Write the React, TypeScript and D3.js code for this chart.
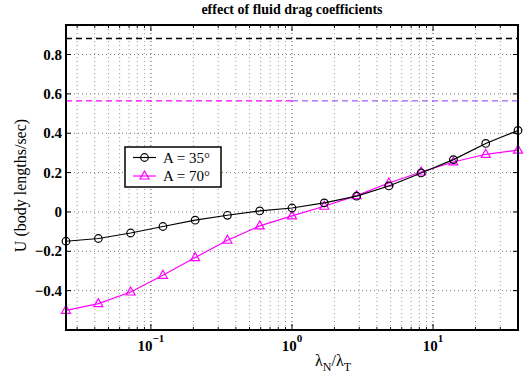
import React, { useRef, useEffect } from 'react';
import * as d3 from 'd3';

const ratios = [0.025, 0.0424, 0.0718, 0.1216, 0.2059, 0.3487, 0.5906, 1.0, 1.695, 2.872, 4.864, 8.238, 13.95, 23.64, 40.04];
const speed35 = [-0.149, -0.135, -0.107, -0.074, -0.042, -0.017, 0.005, 0.020, 0.046, 0.080, 0.132, 0.198, 0.266, 0.348, 0.414];
const speed70 = [-0.500, -0.466, -0.407, -0.322, -0.232, -0.144, -0.071, -0.020, 0.029, 0.083, 0.147, 0.203, 0.254, 0.293, 0.314];
const limit35 = 0.881;
const limit70 = 0.564;
const yTicks = [-0.4, -0.2, 0, 0.2, 0.4, 0.6, 0.8];
const xDecades = [-1, 0, 1];
const legendLabels = ['A = 35°', 'A = 70°'];

function App() {
  const svgRef = useRef<SVGSVGElement>(null);

  useEffect(() => {
    const svg = d3.select(svgRef.current);
    svg.selectAll('*').remove();

    const width = 525;
    const height = 381;
    const margin = { top: 25, right: 7, bottom: 51, left: 66 };
    const font = '"Liberation Serif", "DejaVu Serif", serif';

    const x = d3.scaleLog()
      .domain([0.025, 40.04])
      .range([margin.left, width - margin.right]);

    const y = d3.scaleLinear()
      .domain([-0.6, 0.95])
      .range([height - margin.bottom, margin.top]);

    const x0 = margin.left, x1 = width - margin.right;
    const y0 = height - margin.bottom, y1 = margin.top;

    // minor + major log ticks
    const allX: { v: number, major: boolean }[] = [];
    for (let e = -2; e <= 1; e++) {
      for (let m = 1; m <= 9; m++) {
        const v = m * Math.pow(10, e);
        if (v >= 0.025 && v <= 40.04) allX.push({ v, major: m === 1 });
      }
    }

    const grid = svg.append('g');
    grid.selectAll('line.xg')
      .data(allX)
      .join('line')
      .attr('x1', d => x(d.v)).attr('x2', d => x(d.v))
      .attr('y1', y1).attr('y2', y0)
      .attr('stroke', d => d.major ? '#444' : '#999')
      .attr('stroke-width', 1)
      .attr('stroke-dasharray', '1,3');

    grid.selectAll('line.yg')
      .data(yTicks)
      .join('line')
      .attr('x1', x0).attr('x2', x1)
      .attr('y1', d => y(d)).attr('y2', d => y(d))
      .attr('stroke', '#777')
      .attr('stroke-width', 1)
      .attr('stroke-dasharray', '1,3');

    // tick marks inside
    const ticks = svg.append('g').attr('stroke', '#000').attr('stroke-width', 1);
    allX.forEach(d => {
      const len = d.major ? 6 : 3;
      ticks.append('line').attr('x1', x(d.v)).attr('x2', x(d.v)).attr('y1', y0).attr('y2', y0 - len);
      ticks.append('line').attr('x1', x(d.v)).attr('x2', x(d.v)).attr('y1', y1).attr('y2', y1 + len);
    });
    yTicks.forEach(d => {
      ticks.append('line').attr('x1', x0).attr('x2', x0 + 5).attr('y1', y(d)).attr('y2', y(d));
      ticks.append('line').attr('x1', x1).attr('x2', x1 - 5).attr('y1', y(d)).attr('y2', y(d));
    });

    // limit dashed lines
    svg.append('line')
      .attr('x1', x0).attr('x2', x1)
      .attr('y1', y(limit35)).attr('y2', y(limit35))
      .attr('stroke', '#000').attr('stroke-width', 1.5)
      .attr('stroke-dasharray', '6,4');
    svg.append('line')
      .attr('x1', x0).attr('x2', x(1))
      .attr('y1', y(limit70)).attr('y2', y(limit70))
      .attr('stroke', '#ff00ff').attr('stroke-width', 1.2)
      .attr('stroke-dasharray', '6,4');
    svg.append('line')
      .attr('x1', x(1)).attr('x2', x1)
      .attr('y1', y(limit70)).attr('y2', y(limit70))
      .attr('stroke', '#a05cff').attr('stroke-width', 1.2)
      .attr('stroke-dasharray', '6,4');

    const line = d3.line<number>()
      .x((d, i) => x(ratios[i]))
      .y(d => y(d));

    const triPath = 'M0,-5L4.5,3L-4.5,3Z';

    svg.append('path')
      .datum(speed70)
      .attr('d', line)
      .attr('fill', 'none')
      .attr('stroke', '#ff00ff')
      .attr('stroke-width', 1.2);
    svg.append('g')
      .selectAll('path')
      .data(speed70)
      .join('path')
      .attr('d', triPath)
      .attr('transform', (d, i) => `translate(${x(ratios[i])},${y(d)})`)
      .attr('fill', 'none')
      .attr('stroke', '#ff00ff')
      .attr('stroke-width', 1.2);

    svg.append('path')
      .datum(speed35)
      .attr('d', line)
      .attr('fill', 'none')
      .attr('stroke', '#000')
      .attr('stroke-width', 1.2);
    svg.append('g')
      .selectAll('circle')
      .data(speed35)
      .join('circle')
      .attr('cx', (d, i) => x(ratios[i]))
      .attr('cy', d => y(d))
      .attr('r', 3.8)
      .attr('fill', 'none')
      .attr('stroke', '#000')
      .attr('stroke-width', 1.2);

    // axes box
    svg.append('rect')
      .attr('x', x0).attr('y', y1)
      .attr('width', x1 - x0).attr('height', y0 - y1)
      .attr('fill', 'none')
      .attr('stroke', '#000')
      .attr('stroke-width', 2);

    // y tick labels
    svg.append('g')
      .selectAll('text')
      .data(yTicks)
      .join('text')
      .attr('x', x0 - 4)
      .attr('y', d => y(d) + 5)
      .attr('text-anchor', 'end')
      .attr('font-family', font)
      .attr('font-weight', 'bold')
      .attr('font-size', '15px')
      .text(d => d === 0 ? '0' : d < 0 ? '\u2212' + Math.abs(d).toFixed(1) : d.toFixed(1));

    // x tick labels
    const xl = svg.append('g');
    xDecades.forEach(e => {
      const t = xl.append('text')
        .attr('x', x(Math.pow(10, e)))
        .attr('y', y0 + 21)
        .attr('text-anchor', 'middle')
        .attr('font-family', font)
        .attr('font-weight', 'bold')
        .attr('font-size', '15px');
      t.append('tspan').text('10');
      t.append('tspan').attr('dy', -9).attr('font-size', '11px').text(e < 0 ? '\u2212' + Math.abs(e) : String(e));
    });

    // title
    svg.append('text')
      .attr('x', (x0 + x1) / 2)
      .attr('y', 14)
      .attr('text-anchor', 'middle')
      .attr('font-family', font)
      .attr('font-weight', 'bold')
      .attr('font-size', '14px')
      .text('effect of fluid drag coefficients');

    // y label
    svg.append('text')
      .attr('transform', `translate(26,${(y0 + y1) / 2 + 8}) rotate(-90)`)
      .attr('text-anchor', 'middle')
      .attr('font-family', font)
      .attr('font-size', '16px')
      .text('U (body lengths/sec)');

    // x label
    const xt = svg.append('text')
      .attr('x', 333)
      .attr('y', 366)
      .attr('text-anchor', 'middle')
      .attr('font-family', font)
      .attr('font-size', '16px');
    xt.append('tspan').text('λ');
    xt.append('tspan').attr('dy', 5).attr('font-size', '12px').text('N');
    xt.append('tspan').attr('dy', -5).text('/λ');
    xt.append('tspan').attr('dy', 5).attr('font-size', '12px').text('T');

    // legend
    const lg = svg.append('g');
    lg.append('rect')
      .attr('x', 125).attr('y', 147)
      .attr('width', 96).attr('height', 40)
      .attr('fill', '#fff')
      .attr('stroke', '#000')
      .attr('stroke-width', 1.5);
    const colors = ['#000', '#ff00ff'];
    legendLabels.forEach((lab, i) => {
      const ly = 157.5 + i * 18.5;
      lg.append('line')
        .attr('x1', 133).attr('x2', 156)
        .attr('y1', ly).attr('y2', ly)
        .attr('stroke', colors[i]).attr('stroke-width', 1.2);
      if (i === 0) {
        lg.append('circle').attr('cx', 144.5).attr('cy', ly).attr('r', 3.8)
          .attr('fill', 'none').attr('stroke', '#000').attr('stroke-width', 1.2);
      } else {
        lg.append('path').attr('d', triPath).attr('transform', `translate(144.5,${ly})`)
          .attr('fill', 'none').attr('stroke', '#ff00ff').attr('stroke-width', 1.2);
      }
      lg.append('text')
        .attr('x', 163).attr('y', ly + 5)
        .attr('font-family', font)
        .attr('font-size', '15px')
        .text(lab);
    });
  }, []);

  return (
    <svg ref={svgRef} width={525} height={381} style={{ position: 'absolute', left: 0, top: 0, background: '#fff' }}></svg>
  );
}

export default App;
